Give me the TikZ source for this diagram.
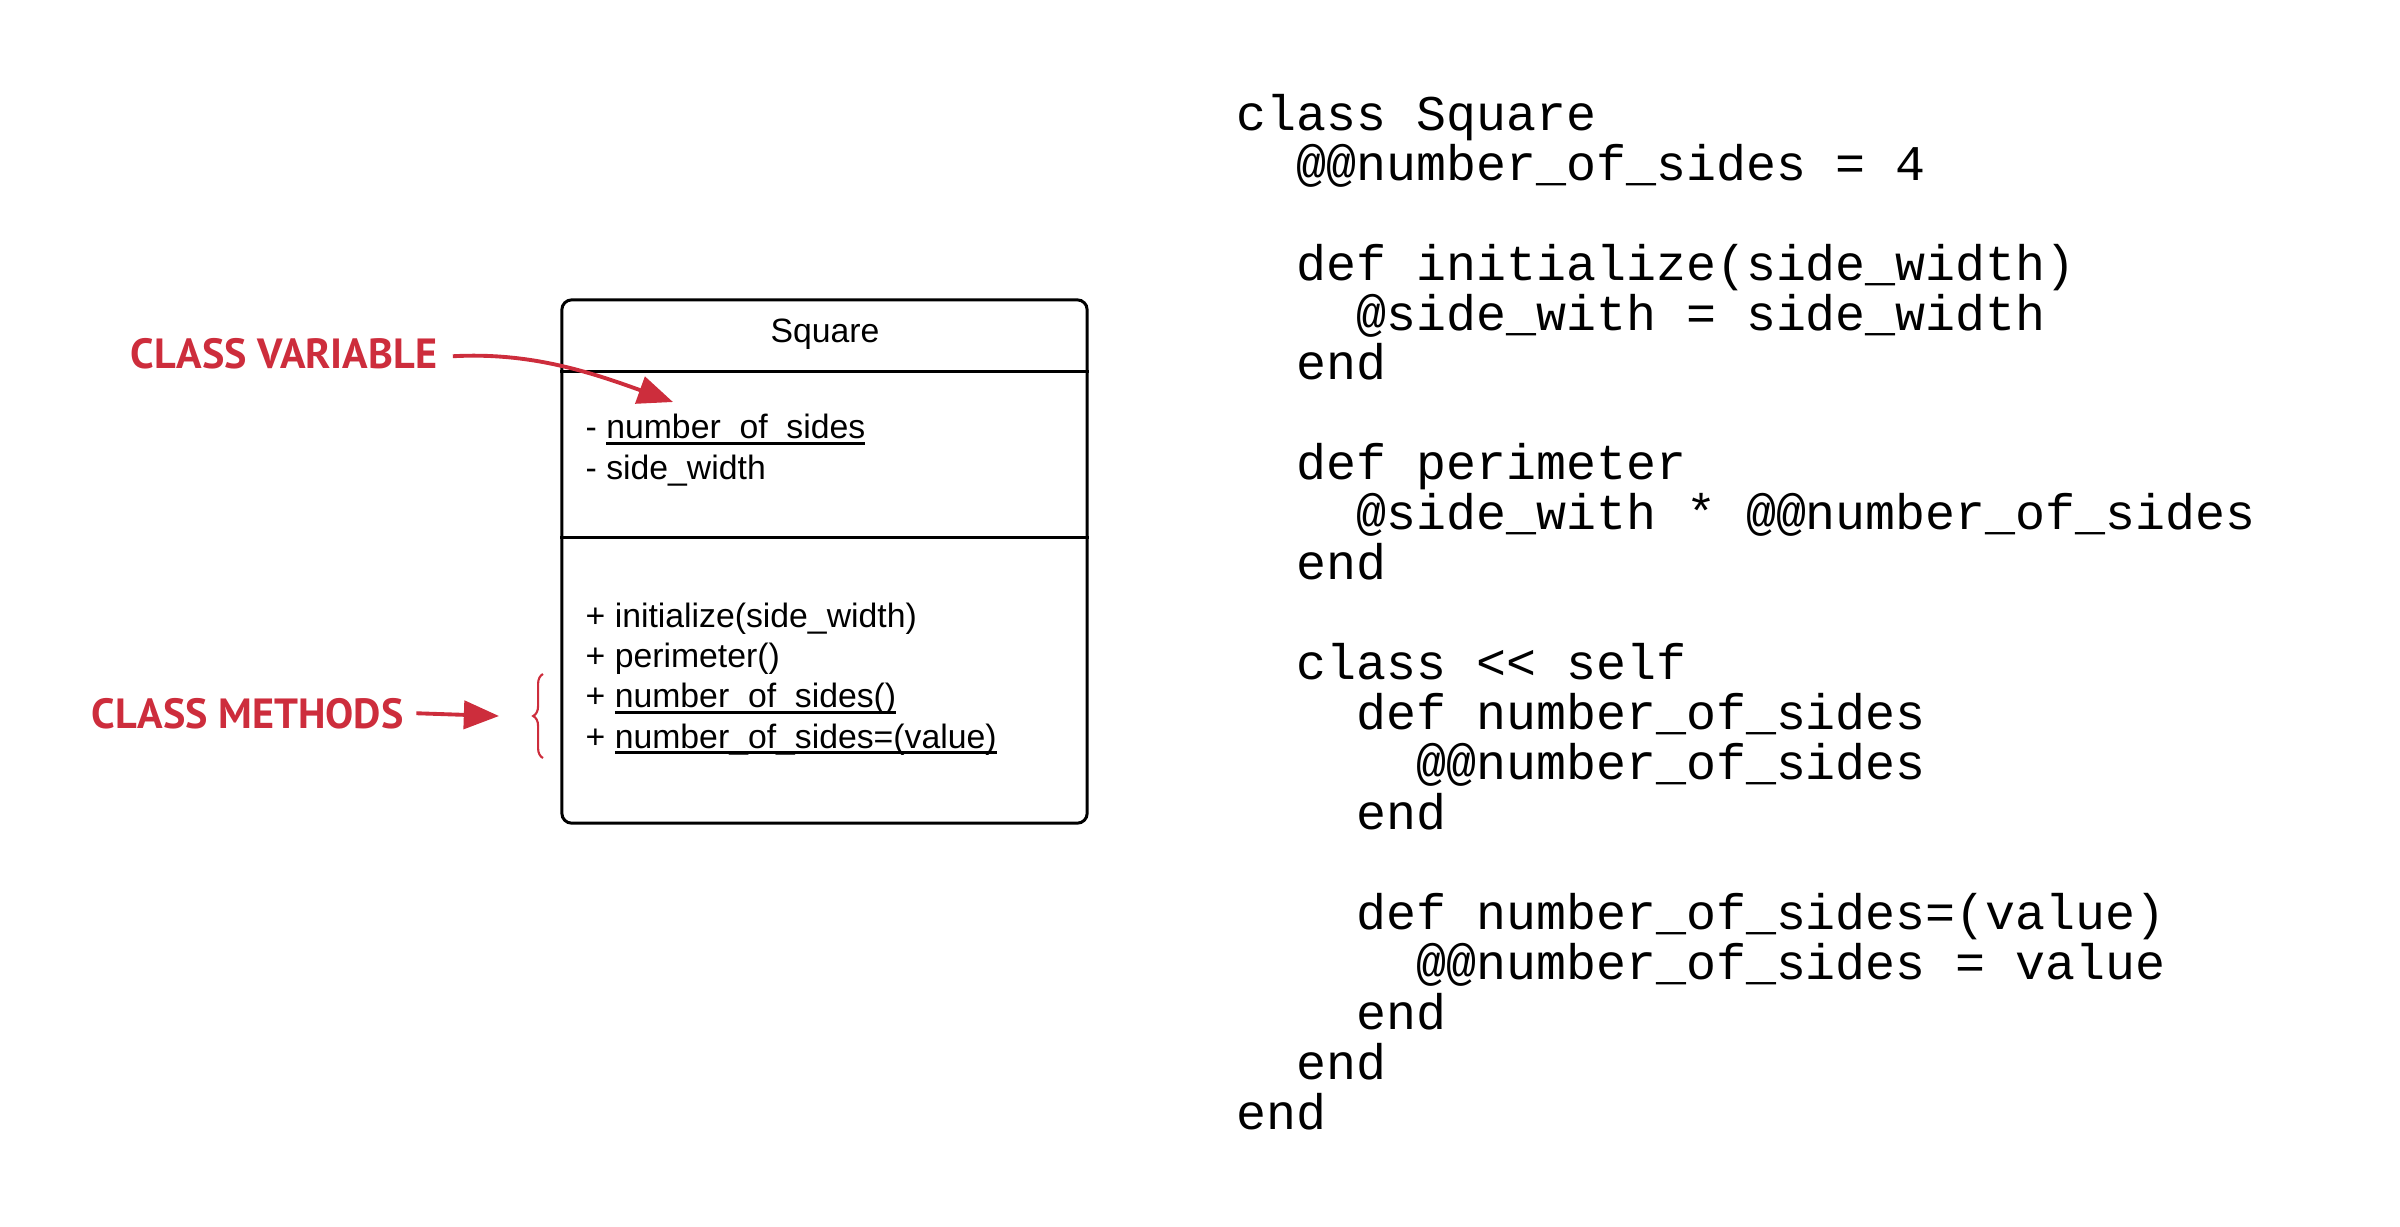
\documentclass[tikz,border=0pt]{standalone}
\usepackage{fontspec}
\setmainfont{Liberation Sans}
\setmonofont{Liberation Mono}
\newfontfamily\notefont{PT Sans}
\usetikzlibrary{arrows.meta,decorations.pathreplacing,positioning}
\definecolor{notered}{RGB}{205,45,60}
\newcommand{\indt}{\hspace*{1.2em}}
\newcommand{\undl}[1]{\setbox0\hbox{#1}\rlap{\rule[-1.6pt]{\wd0}{0.7pt}}\box0}
\begin{document}
\begin{tikzpicture}[x=0.01cm,y=-0.01cm,
classbox/.style={draw=black,line width=0.85pt,rounded corners=2.8pt,
	minimum width=5.25cm,minimum height=5.23cm,inner sep=0pt},
member/.style={anchor=base west,align=left,inner sep=0pt,
	font=\fontsize{9.6}{11.4}\selectfont},
code/.style={anchor=base west,align=left,inner sep=0pt,
	font=\ttfamily\fontsize{14.2}{14.2}\selectfont},
note/.style={anchor=base west,inner sep=0pt,text=notered,
	font=\notefont\bfseries\fontsize{12}{12}\selectfont},
notearrow/.style={draw=notered,line width=1.1pt,-{Triangle[length=10pt,width=8pt]}},
notebrace/.style={draw=notered,line width=0.6pt,decorate,decoration={brace,amplitude=2.8pt}}
]
\useasboundingbox (0,0) rectangle (2400,1226);

% class box
\node[classbox] (square) at (824.5,561.5) {};
\coordinate (div1) at (0,371);
\coordinate (div2) at (0,537);
\draw[line width=0.85pt] (square.west |- div1) -- (square.east |- div1);
\draw[line width=0.85pt] (square.west |- div2) -- (square.east |- div2);
\node[anchor=base,inner sep=0pt,font=\fontsize{9.6}{11.4}\selectfont] (title) at (825,342) {Square};
% multi-line nodes sit on their last baseline
\node[member] (attrs) at (585,479) {- \undl{number\_of\_sides}\\- side\_width};
\node[member] (meths) at (585,748) {+ initialize(side\_width)\\+ perimeter()\\
+ \undl{number\_of\_sides()}\\+ \undl{number\_of\_sides=(value)}};

% notes
\node[note] (cvar) at (130,368) {CLASS VARIABLE};
\node[note] (cmeth) at (91,728) {CLASS METHODS};
\coordinate (cvtip) at (673,402);
\coordinate (cmtip) at (499,716);
\coordinate (brtop) at (543,674);
\coordinate (brbot) at (543,758);
\draw[notearrow] ([xshift=0.15cm,yshift=-0.03cm]cvar.east) .. controls (530,352) and (590,372) .. (cvtip);
\draw[notearrow] ([xshift=0.12cm]cmeth.east) -- (cmtip);
\draw[notebrace] (brbot) -- (brtop);

% ruby code
\node[code] (ruby) at (1236,1129) {class Square\\
\indt @@number\_of\_sides = 4\\
\mbox{}\\
\indt def initialize(side\_width)\\
\indt\indt @side\_with = side\_width\\
\indt end\\
\mbox{}\\
\indt def perimeter\\
\indt\indt @side\_with * @@number\_of\_sides\\
\indt end\\
\mbox{}\\
\indt class << self\\
\indt\indt def number\_of\_sides\\
\indt\indt\indt @@number\_of\_sides\\
\indt\indt end\\
\mbox{}\\
\indt\indt def number\_of\_sides=(value)\\
\indt\indt\indt @@number\_of\_sides = value\\
\indt\indt end\\
\indt end\\
end};
\end{tikzpicture}
\end{document}
